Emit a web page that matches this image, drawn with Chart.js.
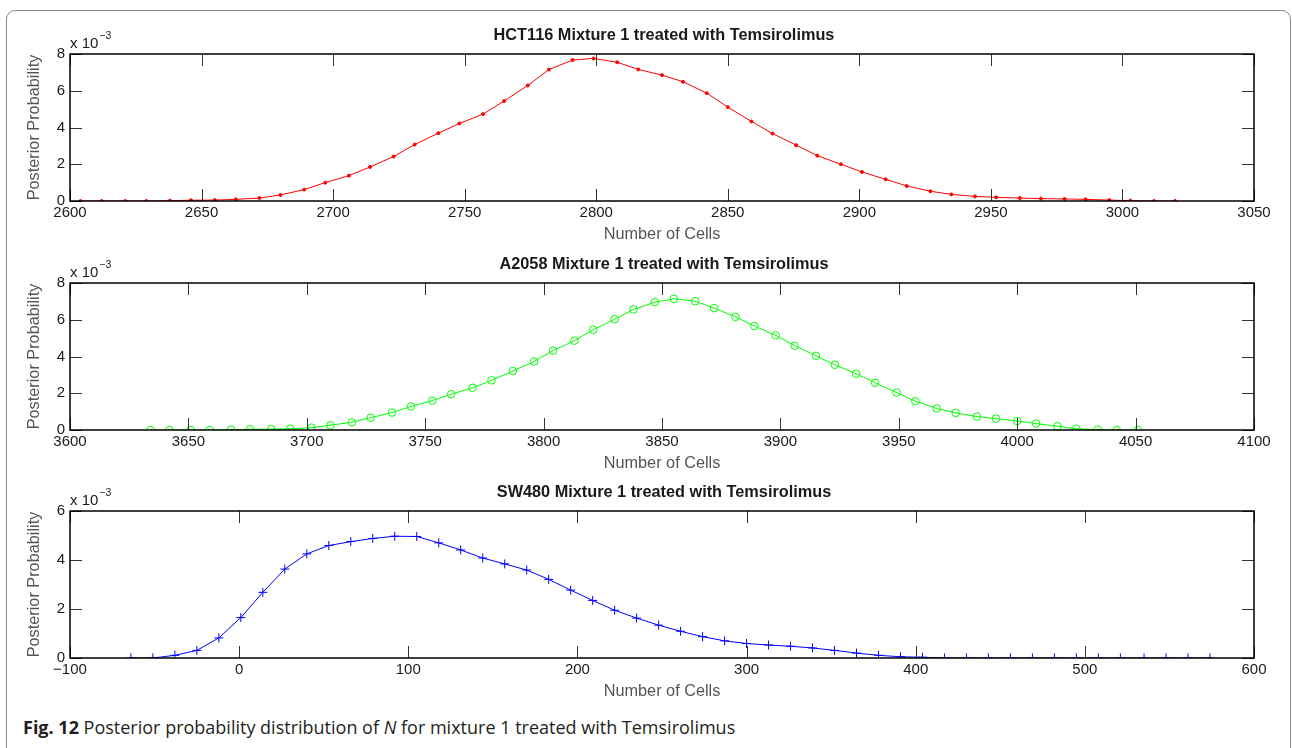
<!DOCTYPE html>
<html lang="en">
<head>
<meta charset="UTF-8">
<title>Posterior probability distribution of N</title>
<script src="https://cdn.jsdelivr.net/npm/chart.js"></script>
<style>
    body {
        margin: 0;
        width: 1292px;
        height: 748px;
        overflow: hidden;
        background: #fff;
        position: relative;
    }
    .frame {
        position: absolute;
        left: 6px;
        top: 10px;
        width: 1285px;
        height: 780px;
        border: 1.5px solid #8a8a8a;
        border-radius: 9px;
        box-sizing: border-box;
    }
    canvas {
        position: absolute;
        left: 0;
    }
    .caption {
        position: absolute;
        left: 23px;
        top: 715px;
        font-family: "Open Sans", sans-serif;
        font-size: 18px;
        line-height: 24px;
        color: #231f20;
        white-space: nowrap;
    }
</style>
</head>
<body>

<div class="frame"></div>
<canvas id="hct" width="1292" height="244" style="top:0px;width:1292px;height:244px"></canvas>
<canvas id="a2058" width="1292" height="244" style="top:229px;width:1292px;height:244px"></canvas>
<canvas id="sw480" width="1292" height="244" style="top:457px;width:1292px;height:244px"></canvas>
<div class="caption"><b>Fig. 12</b> Posterior probability distribution of <i>N</i> for mixture 1 treated with Temsirolimus</div>

<script>
// values, probabilities in units of 10^-3
const hctCells = [2604, 2612, 2621, 2629, 2638, 2646, 2655, 2663, 2672, 2680,
    2689, 2697, 2706, 2714, 2723, 2731, 2740, 2748, 2757, 2765,
    2774, 2782, 2791, 2799, 2808, 2816, 2825, 2833, 2842, 2850,
    2859, 2867, 2876, 2884, 2893, 2901, 2910, 2918, 2927, 2935,
    2944, 2952, 2961, 2969, 2978, 2986, 2995, 3003, 3012, 3020];
const hctProb = [0, 0, 0, 0, 0.02, 0.04, 0.05, 0.09, 0.16, 0.33,
    0.62, 1.0, 1.38, 1.85, 2.42, 3.07, 3.69, 4.22, 4.73, 5.44,
    6.29, 7.15, 7.67, 7.76, 7.55, 7.16, 6.85, 6.49, 5.87, 5.11,
    4.33, 3.67, 3.04, 2.47, 2.0, 1.58, 1.18, 0.82, 0.53, 0.36,
    0.25, 0.2, 0.16, 0.13, 0.11, 0.09, 0.05, 0.02, 0, 0];

const a2058Cells = [3634, 3642, 3651, 3659, 3668, 3676, 3685, 3693, 3702, 3710,
    3719, 3727, 3736, 3744, 3753, 3761, 3770, 3778, 3787, 3796,
    3804, 3813, 3821, 3830, 3838, 3847, 3855, 3864, 3872, 3881,
    3889, 3898, 3906, 3915, 3923, 3932, 3940, 3949, 3957, 3966,
    3974, 3983, 3991, 4000, 4008, 4017, 4025, 4034, 4042, 4051];
const a2058Prob = [0, 0, 0, 0, 0.02, 0.04, 0.05, 0.07, 0.13, 0.26,
    0.42, 0.67, 0.95, 1.28, 1.60, 1.95, 2.30, 2.70, 3.21, 3.73,
    4.32, 4.86, 5.46, 6.03, 6.56, 6.96, 7.14, 7.01, 6.63, 6.16,
    5.66, 5.15, 4.59, 4.04, 3.55, 3.06, 2.57, 2.04, 1.57, 1.17,
    0.93, 0.73, 0.62, 0.49, 0.35, 0.20, 0.07, 0.02, 0, 0];

const sw480Cells = [-64, -51, -38, -25, -12, 1, 14, 27, 40, 53,
    66, 79, 92, 105, 118, 131, 144, 157, 170, 183,
    196, 209, 222, 235, 248, 261, 274, 287, 300, 313,
    326, 339, 352, 365, 378, 391, 404, 417, 430, 443,
    456, 469, 482, 495, 508, 521, 535, 548, 561, 574];
const sw480Prob = [0, 0, 0.11, 0.31, 0.82, 1.65, 2.68, 3.63, 4.25, 4.59,
    4.75, 4.88, 4.97, 4.96, 4.70, 4.41, 4.08, 3.84, 3.59, 3.21,
    2.77, 2.35, 1.95, 1.63, 1.34, 1.09, 0.87, 0.70, 0.59, 0.53,
    0.48, 0.41, 0.31, 0.20, 0.11, 0.05, 0.03, 0, 0, 0,
    0, 0, 0, 0, 0, 0, 0, 0, 0, 0];

const hctTicks = [2600, 2650, 2700, 2750, 2800, 2850, 2900, 2950, 3000, 3050];
const a2058Ticks = [3600, 3650, 3700, 3750, 3800, 3850, 3900, 3950, 4000, 4050, 4100];
const sw480Ticks = [-100, 0, 100, 200, 300, 400, 500, 600];
const probTicks8 = [0, 2, 4, 6, 8];
const probTicks6 = [0, 2, 4, 6];

const FONT = '"Liberation Sans", Arial, sans-serif';

// matlab style box with inward ticks, plus the title and the x10^-3 note
const boxPlugin = {
    id: 'box',
    afterDraw(chart, args, opts) {
        const ctx = chart.ctx;
        const a = chart.chartArea;
        const xs = chart.scales.x, ys = chart.scales.y;
        const len = 12;
        ctx.save();
        ctx.strokeStyle = '#333';
        ctx.lineWidth = 1;
        ctx.beginPath();
        xs.ticks.forEach(t => {
            const px = Math.round(xs.getPixelForValue(t.value)) + 0.5;
            ctx.moveTo(px, a.bottom); ctx.lineTo(px, a.bottom - len);
            ctx.moveTo(px, a.top); ctx.lineTo(px, a.top + len);
        });
        ys.ticks.forEach(t => {
            const py = Math.round(ys.getPixelForValue(t.value)) + 0.5;
            ctx.moveTo(a.left, py); ctx.lineTo(a.left + len, py);
            ctx.moveTo(a.right, py); ctx.lineTo(a.right - len, py);
        });
        ctx.stroke();

        ctx.strokeStyle = '#000';
        ctx.lineWidth = 1.5;
        ctx.strokeRect(a.left, a.top, a.right - a.left, a.bottom - a.top);

        ctx.fillStyle = '#1a1a1a';
        ctx.font = 'bold 16.3px ' + FONT;
        ctx.textAlign = 'center';
        ctx.textBaseline = 'middle';
        ctx.fillText(opts.title, (a.left + a.right) / 2 + 2, a.top - 18);

        ctx.font = '15px ' + FONT;
        ctx.textAlign = 'left';
        ctx.textBaseline = 'alphabetic';
        ctx.fillText('x 10', a.left, a.top - 6);
        const w = ctx.measureText('x 10').width;
        ctx.font = '10.5px ' + FONT;
        ctx.fillText('\u22123', a.left + w + 1, a.top - 15);
        ctx.restore();
    }
};

function fmtTick(v) {
    return v < 0 ? '\u2212' + Math.abs(v) : String(v);
}

function drawPanel(id, cfg) {
    const points = cfg.cells.map((c, i) => ({ x: c, y: cfg.prob[i] }));
    return new Chart(document.getElementById(id), {
        type: 'scatter',
        data: {
            datasets: [{
                data: points,
                showLine: true,
                tension: 0,
                borderColor: cfg.color,
                borderWidth: 1,
                pointStyle: cfg.marker,
                pointRadius: cfg.radius,
                pointBorderColor: cfg.color,
                pointBackgroundColor: cfg.fill,
                pointBorderWidth: 1
            }]
        },
        options: {
            responsive: false,
            animation: false,
            devicePixelRatio: 1,
            events: [],
            layout: { padding: { left: 0, right: 38, top: 54, bottom: 0 } },
            plugins: {
                legend: { display: false },
                tooltip: { enabled: false },
                box: { title: cfg.title }
            },
            scales: {
                x: {
                    type: 'linear',
                    min: cfg.xTicks[0],
                    max: cfg.xTicks[cfg.xTicks.length - 1],
                    afterBuildTicks: s => { s.ticks = cfg.xTicks.map(v => ({ value: v })); },
                    afterFit: s => { s.height = 43; },
                    grid: { display: false, drawTicks: false },
                    border: { display: false },
                    ticks: {
                        padding: 3,
                        autoSkip: false,
                        maxRotation: 0,
                        color: '#1a1a1a',
                        font: { family: FONT, size: 15 },
                        callback: fmtTick
                    },
                    title: {
                        display: true,
                        text: 'Number of Cells',
                        color: '#555',
                        font: { family: FONT, size: 16.3 },
                        padding: 0
                    }
                },
                y: {
                    type: 'linear',
                    min: 0,
                    max: cfg.yTicks[cfg.yTicks.length - 1],
                    afterBuildTicks: s => { s.ticks = cfg.yTicks.map(v => ({ value: v })); },
                    afterFit: s => { s.width = 70; },
                    grid: { display: false, drawTicks: false },
                    border: { display: false },
                    ticks: {
                        padding: 5,
                        color: '#1a1a1a',
                        font: { family: FONT, size: 15 },
                        callback: fmtTick
                    },
                    title: {
                        display: true,
                        text: 'Posterior Probability',
                        color: '#555',
                        font: { family: FONT, size: 16.3 },
                        padding: { top: 25, bottom: 0 }
                    }
                }
            }
        },
        plugins: [boxPlugin]
    });
}

drawPanel('hct', {
    title: 'HCT116 Mixture 1 treated with Temsirolimus',
    cells: hctCells, prob: hctProb, xTicks: hctTicks, yTicks: probTicks8,
    color: '#ff0000', marker: 'circle', radius: 1.5, fill: '#ff0000'
});
drawPanel('a2058', {
    title: 'A2058 Mixture 1 treated with Temsirolimus',
    cells: a2058Cells, prob: a2058Prob, xTicks: a2058Ticks, yTicks: probTicks8,
    color: '#00ff00', marker: 'circle', radius: 3.8, fill: 'rgba(0,0,0,0)'
});
drawPanel('sw480', {
    title: 'SW480 Mixture 1 treated with Temsirolimus',
    cells: sw480Cells, prob: sw480Prob, xTicks: sw480Ticks, yTicks: probTicks6,
    color: '#0000ff', marker: 'cross', radius: 4.5, fill: '#0000ff'
});
</script>
</body>
</html>
